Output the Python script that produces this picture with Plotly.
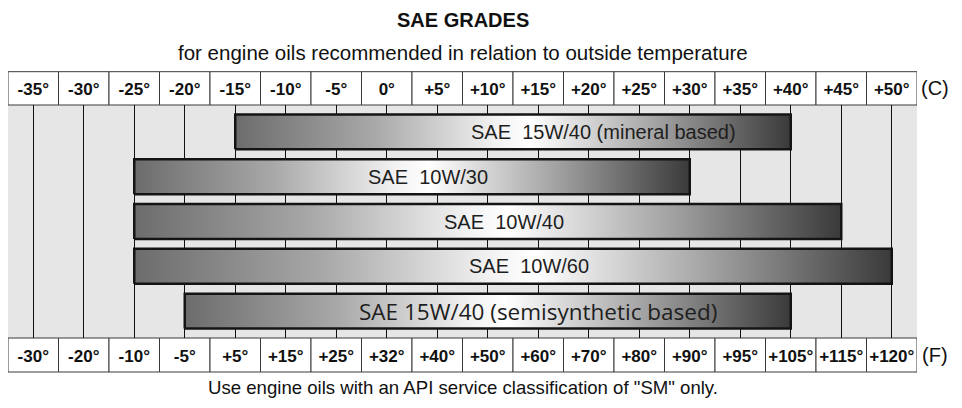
import plotly.graph_objects as go

# ---------------- data ----------------
grades = ["SAE\u00a0 15W/40 (mineral based)", "SAE\u00a0 10W/30", "SAE\u00a0 10W/40",
          "SAE\u00a0 10W/60", "SAE 15W/40 (semisynthetic based)"]
low_c = [-15, -25, -25, -25, -20]
high_c = [40, 30, 45, 50, 40]

temps_c = [-35, -30, -25, -20, -15, -10, -5, 0, 5, 10, 15, 20, 25, 30, 35, 40, 45, 50]
labels_c = ["-35°", "-30°", "-25°", "-20°", "-15°", "-10°", "-5°", "0°", "+5°", "+10°",
            "+15°", "+20°", "+25°", "+30°", "+35°", "+40°", "+45°", "+50°"]
labels_f = ["-30°", "-20°", "-10°", "-5°", "+5°", "+15°", "+25°", "+32°", "+40°", "+50°",
            "+60°", "+70°", "+80°", "+90°", "+95°", "+105°", "+115°", "+120°"]

# label placement (layout, not data)
label_x = [21.45, 4.05, 11.6, 14.05, 14.95]

# ---------------- style ----------------
SANS = "Liberation Sans, Arial, sans-serif"
grad = [[0.0, "#6c6c6c"], [0.25, "#a8a8a8"], [0.47, "#f2f2f2"], [0.53, "#ffffff"],
        [0.76, "#a2a2a2"], [1.0, "#3a3a3a"]]
half_h = 0.39

# the page body has an 8px margin, so the figure is 8px smaller than the window
W, H = 954, 400
PLOT_H = 233

fig = go.Figure()
n = len(grades)
for i in range(n):
    yc = n - 1 - i
    fig.add_trace(go.Scatter(
        x=[low_c[i], high_c[i], high_c[i], low_c[i], low_c[i]],
        y=[yc - half_h, yc - half_h, yc + half_h, yc + half_h, yc - half_h],
        mode="lines", fill="toself",
        fillgradient=dict(type="horizontal", colorscale=grad),
        line=dict(color="#141414", width=2.5),
        hoverinfo="skip", showlegend=False))
    fnt = dict(family=SANS, size=20, color="#1e1e1e")
    if i == n - 1:
        fnt = dict(family="Open Sans, Noto Sans, sans-serif", size=22.5, color="#1e1e1e")
    fig.add_annotation(x=label_x[i], y=yc, text=grades[i], showarrow=False,
                       font=fnt, xanchor="center", yanchor="middle")

# invisible trace for top axis
fig.add_trace(go.Scatter(x=[temps_c[0], temps_c[-1]], y=[0, 0], xaxis="x2",
                         mode="markers", marker=dict(opacity=0), hoverinfo="skip",
                         showlegend=False))

# cell boxes (top: C, bottom: F)
top_h = 33.3 / PLOT_H
bot_h = 34 / PLOT_H
for t in temps_c:
    fig.add_shape(type="rect", xref="x", yref="paper", x0=t - 2.5, x1=t + 2.5,
                  y0=1, y1=1 + top_h, line=dict(color="#3a3a3a", width=1),
                  fillcolor="white", layer="below")
    fig.add_shape(type="rect", xref="x", yref="paper", x0=t - 2.5, x1=t + 2.5,
                  y0=-bot_h, y1=0, line=dict(color="#3a3a3a", width=1),
                  fillcolor="white", layer="below")

tickfont = dict(family=SANS, size=17, color="#111", weight="bold")
fig.update_layout(
    width=W, height=H,
    margin=dict(l=0, r=45, t=97, b=70),
    paper_bgcolor="white", plot_bgcolor="#e6e6e6",
    xaxis=dict(range=[-37.5, 52.5], tickvals=temps_c, ticktext=labels_f,
               showgrid=True, gridcolor="#111", gridwidth=1, zeroline=False,
               ticks="", tickfont=tickfont, showline=False, tickangle=0,
               automargin=False, ticklabelstandoff=6),
    xaxis2=dict(range=[-37.5, 52.5], overlaying="x", side="top", matches="x",
                tickvals=temps_c, ticktext=labels_c, showgrid=False, zeroline=False,
                ticks="", tickfont=tickfont, showline=False, tickangle=0,
                automargin=False, ticklabelstandoff=6),
    yaxis=dict(range=[-0.6, 4.6], showticklabels=False, showgrid=False,
               zeroline=False, fixedrange=True, automargin=False),
)

def py(page_y):
    # page pixel y -> paper coordinate (plot bottom sits at page y 338)
    return (338 - page_y) / PLOT_H

def px(page_x):
    return (page_x - 8) / 909

fig.add_annotation(x=0.5, y=py(20), xref="paper", yref="paper",
                   text="<b>SAE GRADES</b>", showarrow=False, xanchor="center",
                   font=dict(family=SANS, size=20, color="#111"), yanchor="middle")
fig.add_annotation(x=0.5, y=py(52), xref="paper", yref="paper",
                   text="for engine oils recommended in relation to outside temperature",
                   showarrow=False, font=dict(family=SANS, size=20.5, color="#111"),
                   xanchor="center", yanchor="middle")
fig.add_annotation(x=0.5, y=py(387), xref="paper", yref="paper",
                   text='Use engine oils with an API service classification of "SM" only.',
                   showarrow=False, font=dict(family=SANS, size=18.6, color="#111"),
                   xanchor="center", yanchor="middle")
fig.add_annotation(x=px(935), y=py(88), xref="paper", yref="paper",
                   text="(C)", showarrow=False, xanchor="center",
                   font=dict(family=SANS, size=20, color="#111"), yanchor="middle")
fig.add_annotation(x=px(935), y=py(355), xref="paper", yref="paper",
                   text="(F)", showarrow=False, xanchor="center",
                   font=dict(family=SANS, size=20, color="#111"), yanchor="middle")

fig.write_html("out.html")
